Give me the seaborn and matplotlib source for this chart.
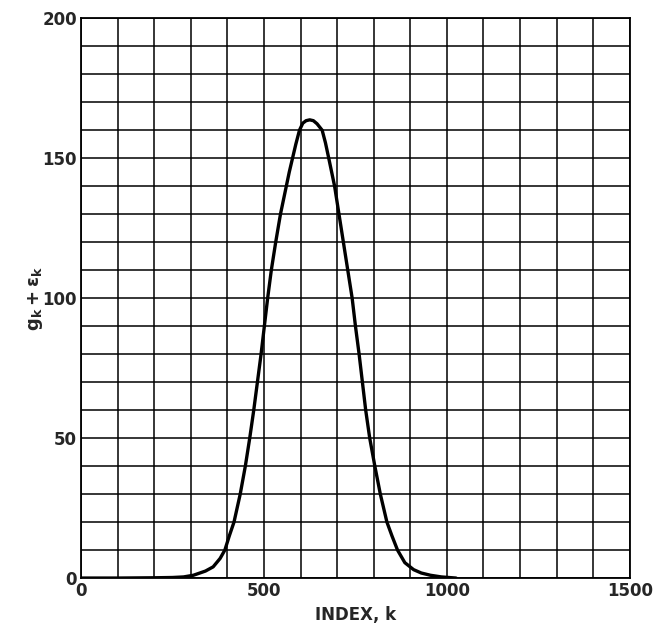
import numpy as np
import pandas as pd
import matplotlib
matplotlib.use("Agg")
import matplotlib.pyplot as plt
from matplotlib.ticker import MultipleLocator
import seaborn as sns

# values
index_k = [0, 100, 200, 250, 280, 307, 340, 361, 380, 393, 405, 418, 435, 449,
           461, 472, 482, 492, 501, 510, 520, 532, 545, 553, 561, 569, 578, 587,
           597, 606, 615, 625, 635, 645, 659, 668, 677, 693, 705, 717, 729,
           741, 750, 760, 769, 778, 789, 803, 818, 836, 850, 865, 885, 909,
           930, 955, 985, 1025]
g_eps = [0, 0, 0.1, 0.2, 0.4, 1, 2.5, 4, 7, 10, 15, 20, 30, 40,
         50, 60, 70, 80, 90, 100, 110, 120, 130, 135, 140, 145, 150, 155,
         160, 162.5, 163.4, 163.7, 163.4, 162.3, 160, 155.5, 150, 140, 130, 120, 110,
         100, 90, 80, 70, 60, 50, 40, 30, 20, 15, 10, 5.5, 3,
         1.8, 1, 0.4, 0]

df = pd.DataFrame({"k": index_k, "g": g_eps})

sns.set_style("white")
plt.rcParams["font.family"] = ["DejaVu Sans"]
plt.rcParams["mathtext.fontset"] = "dejavusans"

fig = plt.figure(figsize=(6.54, 6.29), dpi=100)
ax = fig.add_axes([0.124, 0.081, 0.839, 0.890])

sns.lineplot(data=df, x="k", y="g", ax=ax, color="black", linewidth=2.4,
             sort=False, zorder=5)

ax.set_xlim(0, 1500)
ax.set_ylim(0, 200)
ax.xaxis.set_major_locator(MultipleLocator(500))
ax.xaxis.set_minor_locator(MultipleLocator(100))
ax.yaxis.set_major_locator(MultipleLocator(50))
ax.yaxis.set_minor_locator(MultipleLocator(10))
ax.grid(True, which="both", color="black", linewidth=1.1)
ax.tick_params(which="both", length=0, pad=3, labelsize=12)
for lab in ax.get_xticklabels() + ax.get_yticklabels():
    lab.set_fontweight("bold")
for s in ax.spines.values():
    s.set_color("black")
    s.set_linewidth(1.3)

ax.set_xlabel("INDEX, k", fontsize=12, fontweight="bold", labelpad=4)
ax.set_ylabel(r"$\mathbf{g_k + \epsilon_k}$", fontsize=13, labelpad=-2)

fig.savefig("out.png", dpi=100)
